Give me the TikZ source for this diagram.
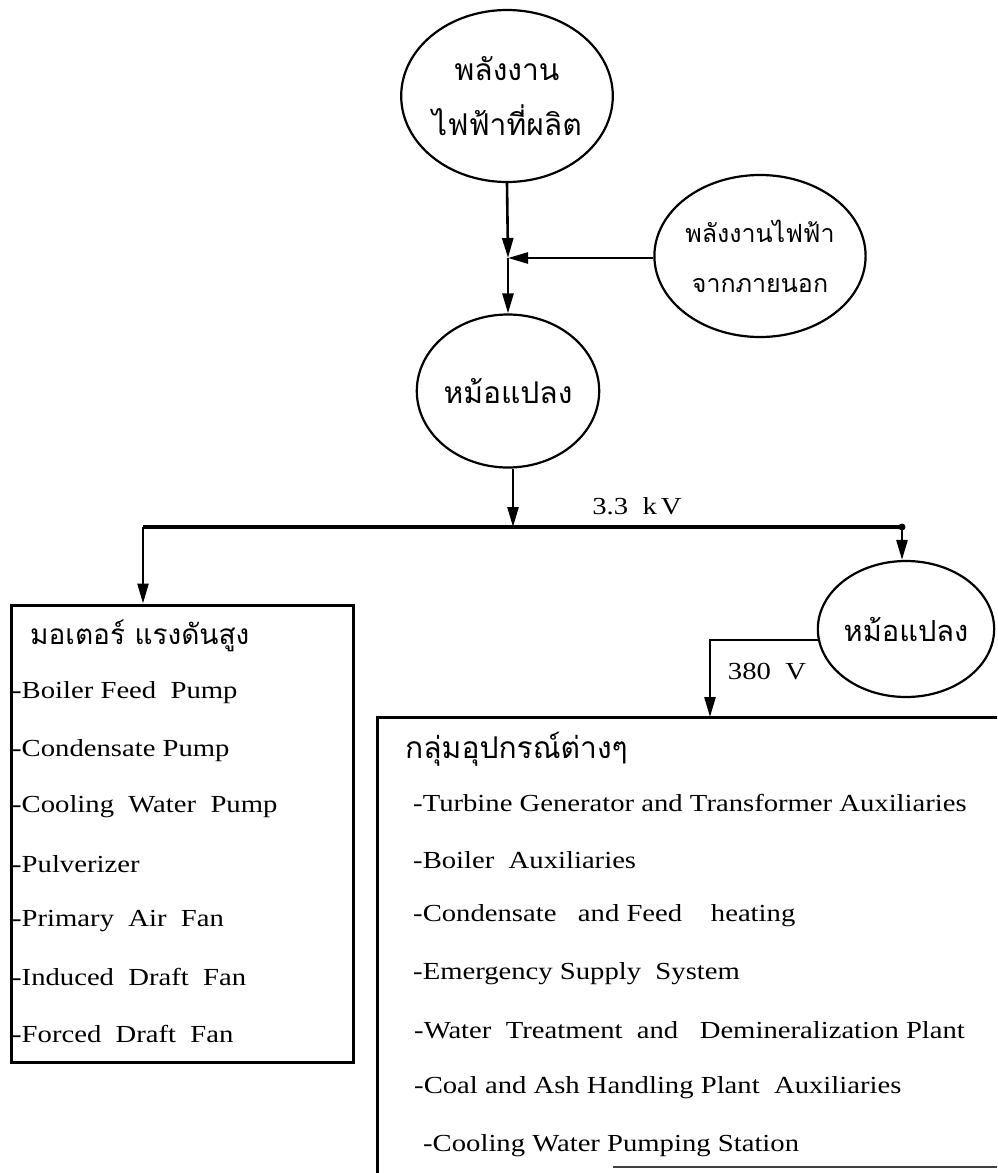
\documentclass[tikz,border=0pt]{standalone}
\usepackage{fontspec}
\setmainfont{Liberation Serif}[FakeStretch=1.17]
\newfontfamily\thaifont[Script=Thai]{Loma}
\usetikzlibrary{arrows.meta,shapes.geometric}
\tikzset{
  ell/.style={ellipse, draw, line width=2.2pt, inner sep=0pt, align=center},
  conn/.style={line width=2.6pt, -{Triangle[length=20pt,width=11pt]}},
  busline/.style={line width=4.5pt},
  boxline/.style={line width=3pt},
  item/.style={anchor=west, font=\fontsize{24.5}{26}\selectfont, inner sep=0pt},
  thaihead/.style={anchor=west, font=\thaifont\fontsize{29}{32}\selectfont, inner sep=0pt},
  lbl/.style={font=\fontsize{24.5}{26}\selectfont, inner sep=0pt}
}
\begin{document}
\begin{tikzpicture}[x=1pt,y=-1pt]
\useasboundingbox (0,0) rectangle (997,1173);
% circles
\node[ell, minimum width=200pt, minimum height=172pt, font=\thaifont\fontsize{30}{55}\selectfont] (gen) at (507,96) {พลังงาน\\ไฟฟ้าที่ผลิต};
\node[ell, minimum width=194pt, minimum height=162pt, font=\thaifont\fontsize{25}{50}\selectfont] (ext) at (760,256) {พลังงานไฟฟ้า\\จากภายนอก};
\node[ell, minimum width=158pt, minimum height=153pt, font=\thaifont\fontsize{30}{32}\selectfont] (tr1) at (508,391) {หม้อแปลง};
\node[ell, minimum width=167pt, minimum height=136pt, font=\thaifont\fontsize{29}{32}\selectfont] (tr2) at (906,629) {หม้อแปลง};
% junction
\coordinate (J) at (508,258);
\draw[conn] (gen.south) -- (J);
\draw[conn] (ext.west |- J) -- (J);
\draw[conn] (J) -- (tr1.north);
% bus
\coordinate (busL) at (143,527);
\coordinate (busR) at (902,527);
\coordinate (busM) at (513,527);
\draw[busline] (busL) -- (busR);
\fill (busR) circle (3.5pt);
\draw[conn] (busM |- tr1.south) -- (busM);
\node[lbl] (kv) at (637,506) {3.3\ \ k\,V};
% left box
\node[draw, boxline, minimum width=342pt, minimum height=457pt, inner sep=0pt] (motor) at (182,833.5) {};
\draw[conn] (busL) -- (busL |- motor.north);
\draw[conn] (busR) -- (busR |- tr2.north);
% right box
\coordinate (eqTL) at (377,717);
\coordinate (eqTR) at (997,717);
\coordinate (eqBL) at (377,1173);
\coordinate (eqB1) at (613,1167);
\coordinate (eqB2) at (997,1167);
\draw[boxline] (eqTR) -- (eqTL) -- (eqBL);
\draw[line width=2.5pt, black!75] (eqB1) -- (eqB2);
\coordinate (v380) at (710,717);
\draw[conn] (tr2.187) -| (v380);
\node[lbl] (lv) at (767,672) {380\ \ V};
% left box text
\node[thaihead, font=\thaifont\fontsize{28}{32}\selectfont] (mh) at (30,636) {มอเตอร์ แรงดันสูง};
\node[item] (m1) at (12,693) {-Boiler Feed\ \ Pump};
\node[item] (m2) at (12,751) {-Condensate Pump};
\node[item] (m3) at (12,807) {-Cooling\ \ Water\ \ Pump};
\node[item] (m4) at (12,864) {-Pulverizer};
\node[item] (m5) at (12,921) {-Primary\ \ Air\ \ Fan};
\node[item] (m6) at (12,977) {-Induced\ \ Draft\ \ Fan};
\node[item] (m7) at (12,1034) {-Forced\ \ Draft\ \ Fan};
% right box text
\node[thaihead, font=\thaifont\fontsize{30}{32}\selectfont] (eh) at (405,749) {กลุ่มอุปกรณ์ต่างๆ};
\node[item] (e1) at (413,803) {-Turbine Generator and Transformer Auxiliaries};
\node[item] (e2) at (413,860) {-Boiler\ \ Auxiliaries};
\node[item] (e3) at (413,916) {-Condensate\ \ \ and Feed\ \ \ \ heating};
\node[item] (e4) at (413,974) {-Emergency Supply\ \ System};
\node[item] (e5) at (414,1030) {-Water\ \ Treatment\ \ and\ \ \ Demineralization Plant};
\node[item] (e6) at (414,1088) {-Coal and Ash Handling Plant\ \ Auxiliaries};
\node[item] (e7) at (423,1146) {-Cooling Water Pumping Station};
\end{tikzpicture}
\end{document}
